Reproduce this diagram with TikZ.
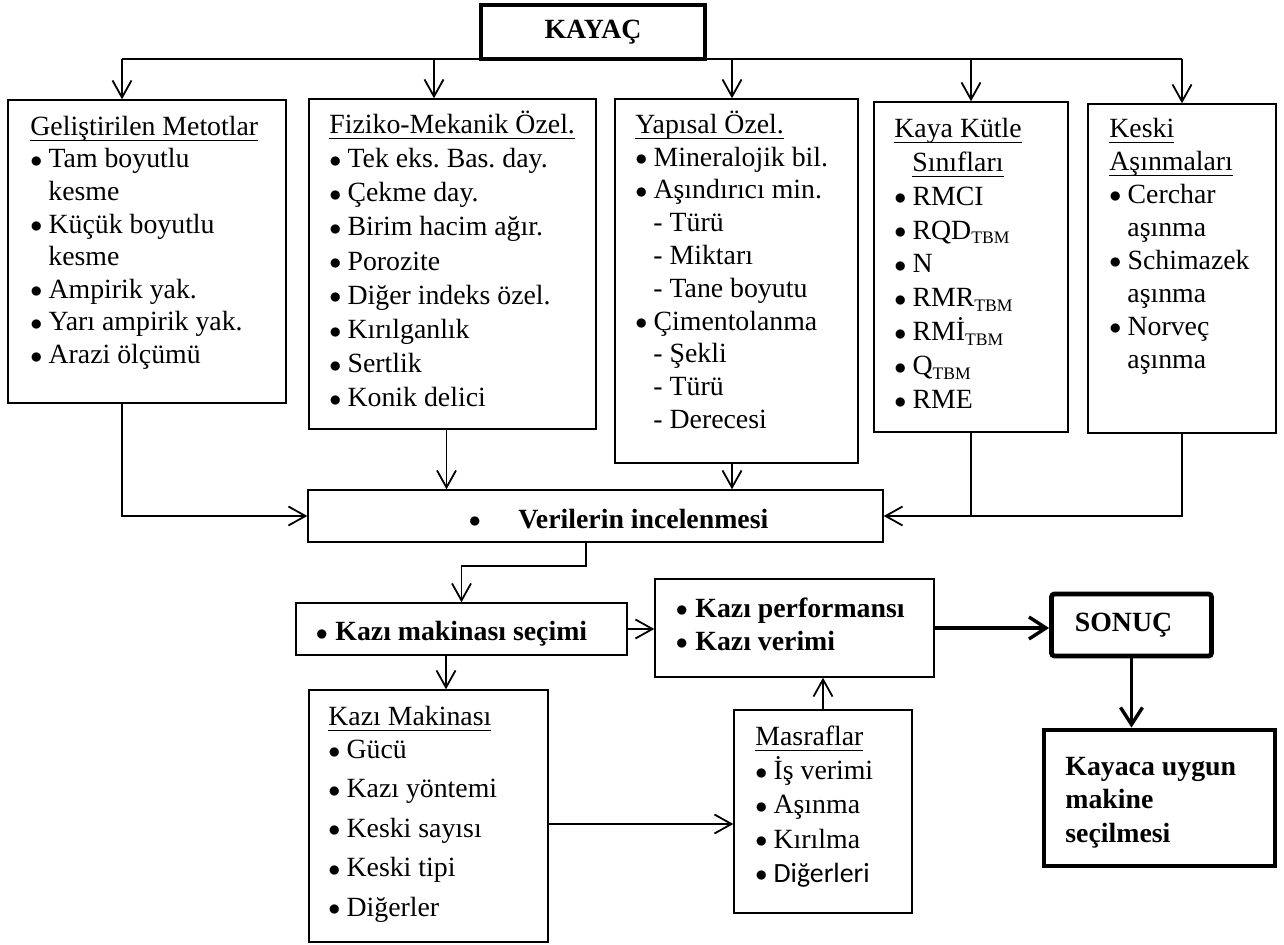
\documentclass[tikz,border=0pt]{standalone}
\usepackage{fontspec}
\setmainfont{Liberation Serif}
\newfontfamily\calibri{Carlito}
\usetikzlibrary{positioning, arrows.meta, fit, calc}

\frenchspacing
\newcommand\fsz[1]{\fontsize{13.9pt}{#1}\selectfont}
\newcommand\tp{\rule{0pt}{13pt}}
\newcommand\dotb{\raisebox{0.2pt}{\fontsize{12.5pt}{12.5pt}\selectfont$\bullet$}}
\newcommand\bl{\makebox[9.1pt][l]{\dotb}}
\newcommand\ind{\hspace*{9pt}}
\newcommand\undl[1]{\setbox0\hbox{#1}\rlap{\rule[-3pt]{\wd0}{0.6pt}}\box0}
\newcommand\sub[1]{\raisebox{-2.2pt}{\fontsize{8.8pt}{8.8pt}\selectfont #1}}

\tikzset{
  box/.style={draw, line width=0.7pt, inner sep=0pt},
  heavybox/.style={draw, line width=2.4pt, inner sep=0pt},
  txt/.style={anchor=north west, inner sep=0pt, align=left},
  line/.style={line width=0.9pt},
  arr/.style={line, -{Straight Barb[length=8.5pt,width=9.5pt]}},
  heavyarr/.style={line width=1.7pt, -{Straight Barb[length=8.5pt,width=11pt]}}
}

\begin{document}
\begin{tikzpicture}[x=0.5pt, y=-0.5pt, font=\fsz{16.75pt}]
  \useasboundingbox (0,0) rectangle (1284,945);

  \node[draw, line width=1.6pt, minimum width=112pt, minimum height=27pt,
    font=\fsz{16.75pt}\bfseries] (kayac) at (593,32) {KAYAÇ};

  \node[box, fit={(8,100) (286,403)}] (gelis) {};
  \node[box, fit={(309,99) (596,429)}] (fiziko) {};
  \node[box, fit={(615,99) (858,463)}] (yapisal) {};
  \node[box, fit={(874,102) (1068,432)}] (kaya) {};
  \node[box, fit={(1088,104) (1276,433)}] (keski) {};
  \node[box, fit={(308,490) (883,542)}] (veri) {};
  \node[box, fit={(296,603) (627,655)}] (secim) {};
  \node[box, fit={(655,579) (934,677)}] (perf) {};
  \node[box, fit={(309,690) (548,942)}] (makina) {};
  \node[box, fit={(734,710) (912,913)}] (masraf) {};
  \node[heavybox, fit={(1044,730) (1275,866)}] (uygun) {};
  \node[heavybox, rounded corners=1.5pt, minimum width=80pt, minimum height=31pt,
    font=\fsz{16.75pt}\bfseries] (sonuc) at (1131.5,625) {\hspace*{-8pt}SONUÇ};

  \node[txt, font=\fsz{16.3pt}] (gelist) at (30,109)
    {\tp\undl{Geliştirilen Metotlar}\\ \bl Tam boyutlu\\ \ind kesme\\
     \bl Küçük boyutlu\\ \ind kesme\\ \bl Ampirik yak.\\
     \bl Yarı ampirik yak.\\ \bl Arazi ölçümü};
  \node[txt, font=\fsz{17.1pt}] (fizikot) at (329,107)
    {\tp\undl{Fiziko-Mekanik Özel.}\\ \bl Tek eks. Bas. day.\\ \bl Çekme day.\\
     \bl Birim hacim ağır.\\ \bl Porozite\\ \bl Diğer indeks özel.\\
     \bl Kırılganlık\\ \bl Sertlik\\ \bl Konik delici};
  \node[txt, font=\fsz{16.4pt}] (yapisalt) at (635,107)
    {\tp\undl{Yapısal Özel.}\\ \bl Mineralojik bil.\\ \bl Aşındırıcı min.\\
     \ind- Türü\\ \ind- Miktarı\\ \ind- Tane boyutu\\ \bl Çimentolanma\\
     \ind- Şekli\\ \ind- Türü\\ \ind- Derecesi};
  \node[txt, font=\fsz{16.95pt}] (kayat) at (894,111)
    {\tp\undl{Kaya Kütle}\\ \ind\undl{Sınıfları}\\ \bl RMCI\\
     \bl RQD\sub{TBM}\\ \bl N\\ \bl RMR\sub{TBM}\\
     \bl RMİ\sub{TBM}\\ \bl Q\sub{TBM}\\ \bl RME};
  \node[txt, font=\fsz{16.5pt}] (keskit) at (1109,111)
    {\tp\undl{Keski}\\ \undl{Aşınmaları}\\ \bl Cerchar\\ \ind aşınma\\
     \bl Schimazek\\ \ind aşınma\\ \bl Norveç\\ \ind aşınma};

  \node[txt, font=\fsz{16.75pt}\bfseries] (verit) at (468.5,502)
    {\tp\makebox[24.75pt][l]{\dotb}Verilerin incelenmesi};
  \node[txt, font=\fsz{16.75pt}\bfseries] (secimt) at (315.5,614)
    {\tp\makebox[9.75pt][l]{\dotb}Kazı makinası seçimi};
  \node[txt, font=\fsz{16.5pt}\bfseries] (perft) at (675.5,591)
    {\tp\makebox[9.75pt][l]{\dotb}Kazı performansı\\
     \makebox[9.75pt][l]{\dotb}Kazı verimi};
  \node[txt, font=\fsz{16.5pt}] (makinat) at (328,699)
    {\tp\undl{Kazı Makinası}\\ \bl Gücü\\[3.2pt] \bl Kazı yöntemi\\[3.2pt]
     \bl Keski sayısı\\[3.2pt] \bl Keski tipi\\[3.2pt] \bl Diğerler};
  \node[txt, font=\fsz{17.1pt}] (masraft) at (755,719)
    {\tp\undl{Masraflar}\\ \bl İş verimi\\ \bl Aşınma\\ \bl Kırılma\\
     \bl {\calibri Diğerleri}};
  \node[txt, font=\fsz{16.75pt}\bfseries] (uygunt) at (1065,749)
    {\tp Kayaca uygun\\ makine\\ seçilmesi};

  \coordinate (t1) at (122,59);
  \coordinate (t2) at (434,59);
  \coordinate (t3) at (732,59);
  \coordinate (t4) at (971,59);
  \coordinate (t5) at (1182,59);
  \draw[line] (t1) -- (t5);
  \foreach \t/\b in {t1/gelis, t2/fiziko, t3/yapisal, t4/kaya, t5/keski}
    \draw[arr] (\t) -- (\t |- \b.north);

  \draw[arr] (gelis.south -| t1) |- (veri.west);
  \draw[arr] ([xshift=-3pt]fiziko.south) -- ([xshift=-3pt]fiziko.south |- veri.north);
  \draw[arr] (yapisal.south -| t3) -- (veri.north -| t3);
  \draw[line] (kaya.south) -- (kaya.south |- veri.east);
  \draw[arr] (keski.south) |- (veri.east);

  \coordinate (v1) at (586,566);
  \draw[arr] (veri.south -| v1) -- (v1) -| (secim.north);
  \draw[arr] (secim.east) -- (perf.west |- secim.east);
  \draw[arr] ([xshift=-7.75pt]secim.south) -- ([xshift=-7.75pt]secim.south |- makina.north);
  \coordinate (k1) at (0,824);
  \draw[arr] (makina.east |- k1) -- (masraf.west |- k1);
  \draw[arr] (masraf.north) -- (masraf.north |- perf.south);
  \draw[heavyarr] (perf.east) -- (perf.east -| sonuc.west);
  \draw[heavyarr] (sonuc.south) -- (sonuc.south |- uygun.north);
\end{tikzpicture}
\end{document}
